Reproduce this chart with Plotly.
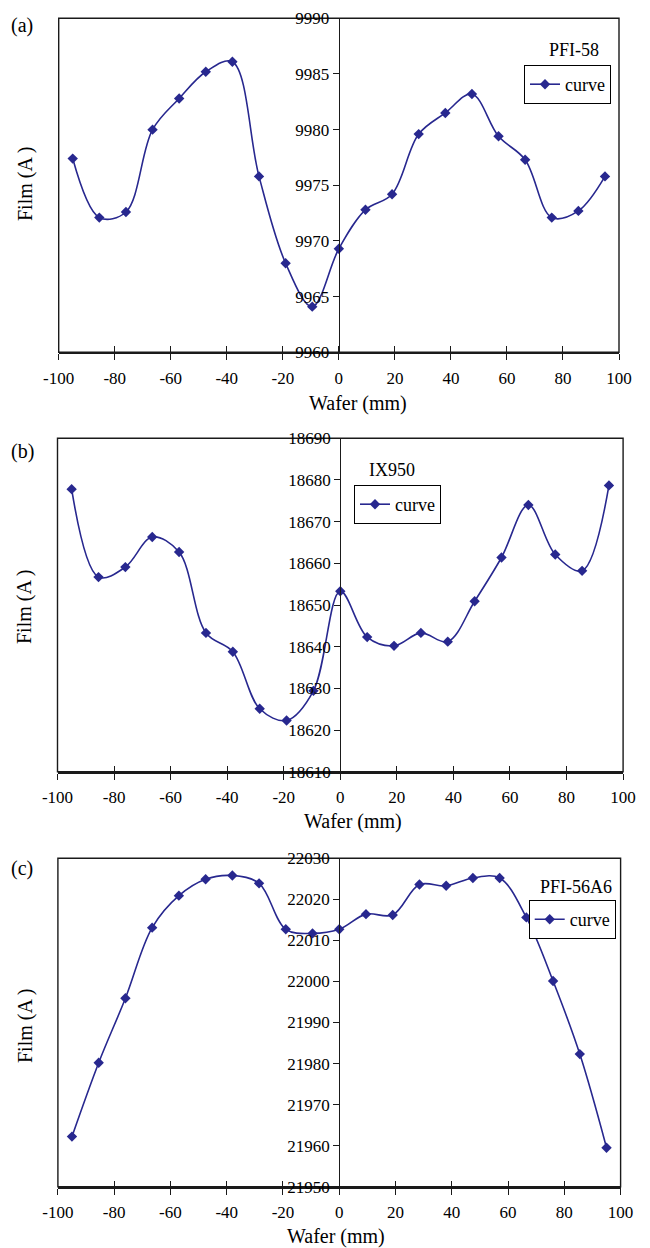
import plotly.graph_objects as go

# ---------------- data ----------------
wafer_mm = [-95, -85.5, -76, -66.5, -57, -47.5, -38, -28.5, -19, -9.5, 0,
            9.5, 19, 28.5, 38, 47.5, 57, 66.5, 76, 85.5, 95]

film_pfi58 = [9977.4, 9972.1, 9972.6, 9980.0, 9982.8, 9985.2, 9986.1, 9975.8,
              9968.0, 9964.1, 9969.3, 9972.8, 9974.2, 9979.6, 9981.5, 9983.2,
              9979.4, 9977.3, 9972.1, 9972.7, 9975.8]

film_ix950 = [18677.8, 18656.7, 18659.1, 18666.3, 18662.7, 18643.3, 18638.8,
              18625.1, 18622.3, 18629.4, 18653.3, 18642.3, 18640.2, 18643.3,
              18641.2, 18650.9, 18661.4, 18674.0, 18662.1, 18658.2, 18678.7]

film_pfi56a6 = [21962.2, 21980.2, 21995.9, 22013.1, 22020.9, 22024.9, 22025.8,
                22023.9, 22012.7, 22011.7, 22012.7, 22016.4, 22016.2, 22023.6,
                22023.3, 22025.2, 22025.2, 22015.6, 22000.1, 21982.3, 21959.5]

x_ticks = [-100, -80, -60, -40, -20, 0, 20, 40, 60, 80, 100]
y_ticks_a = [9960, 9965, 9970, 9975, 9980, 9985, 9990]
y_ticks_b = [18610, 18620, 18630, 18640, 18650, 18660, 18670, 18680, 18690]
y_ticks_c = [21950, 21960, 21970, 21980, 21990, 22000, 22010, 22020, 22030]

series_names = ["PFI-58", "IX950", "PFI-56A6"]
panel_labels = ["(a)", "(b)", "(c)"]
legend_text = "curve"
x_title = "Wafer (mm)"
y_title = "Film (A )"

# ---------------- layout geometry (pixels) ----------------
W, H = 650, 1248
FONT = "Liberation Serif"
LINE_COLOR = "#28288F"
AX_COLOR = "#1a1a1a"

panels = [
    dict(y=film_pfi58, ticks=y_ticks_a, left=58.7, right=619.0, top=18.3, bottom=352.3,
         label_pos=(22, 25), name_pos=(574, 50),
         legend=dict(x=611, y=65, xanchor="right"),
         xt_pos=(358, 403.3), yt_pos=(25, 184)),
    dict(y=film_ix950, ticks=y_ticks_b, left=57.5, right=623.1, top=438.3, bottom=771.7,
         label_pos=(22, 451.7), name_pos=(391.5, 470),
         legend=dict(x=354, y=485, xanchor="left"),
         xt_pos=(352.6, 821.7), yt_pos=(25, 607)),
    dict(y=film_pfi56a6, ticks=y_ticks_c, left=57.9, right=620.6, top=858.3, bottom=1186.7,
         label_pos=(22, 868.3), name_pos=(575.5, 886.5),
         legend=dict(x=615.7, y=900, xanchor="right"),
         xt_pos=(335.5, 1236), yt_pos=(25, 1026)),
]


def px_x(v):
    return v / W


def px_y(v):
    return 1 - v / H


fig = go.Figure()
layout = dict(
    width=W, height=H, autosize=False,
    margin=dict(l=0, r=0, t=0, b=0, pad=0, autoexpand=False),
    paper_bgcolor="white", plot_bgcolor="white",
    font=dict(family=FONT, size=17, color="black"),
    showlegend=True,
    template="none",
)
annotations = []
shapes = []

for i, p in enumerate(panels):
    n = i + 1
    sfx = "" if n == 1 else str(n)
    ov = n + 3  # overlay x-axis for inward half of crossing ticks
    legend_key = "legend" if n == 1 else f"legend{n}"

    fig.add_trace(go.Scatter(
        x=wafer_mm, y=p["y"], mode="lines+markers", name=legend_text,
        line=dict(color=LINE_COLOR, width=1.6, shape="spline", smoothing=1.0),
        marker=dict(symbol="diamond", size=8, color=LINE_COLOR),
        xaxis=f"x{sfx}", yaxis=f"y{sfx}", legend=legend_key,
        hoverinfo="x+y",
    ))
    fig.add_trace(go.Scatter(
        x=[None], y=[None], xaxis=f"x{ov}", yaxis=f"y{sfx}",
        showlegend=False, hoverinfo="skip", mode="markers",
    ))

    xdom = [px_x(p["left"]), px_x(p["right"])]
    ydom = [px_y(p["bottom"]), px_y(p["top"])]
    yr = [p["ticks"][0], p["ticks"][-1]]

    layout[f"xaxis{sfx}"] = dict(
        domain=xdom, range=[-100, 100], anchor=f"y{sfx}", automargin=False,
        tickmode="array", tickvals=x_ticks, ticktext=[str(t) for t in x_ticks],
        ticks="outside", ticklen=6, tickwidth=1.2, tickcolor=AX_COLOR,
        showline=True, linecolor=AX_COLOR, linewidth=1.6,
        showgrid=False, zeroline=False,
        tickfont=dict(family=FONT, size=17, color="black"),
        ticklabelstandoff=3,
    )
    layout[f"xaxis{ov}"] = dict(
        domain=xdom, range=[-100, 100], anchor=f"y{sfx}", overlaying=f"x{sfx}",
        automargin=False,
        tickmode="array", tickvals=x_ticks,
        ticks="inside", ticklen=6, tickwidth=1.2, tickcolor=AX_COLOR,
        showticklabels=False, showline=False, showgrid=False, zeroline=False,
    )
    layout[f"yaxis{sfx}"] = dict(
        domain=ydom, range=yr, anchor="free", automargin=False,
        position=(xdom[0] + xdom[1]) / 2,
        tickmode="array", tickvals=p["ticks"], ticktext=[str(t) for t in p["ticks"]],
        ticks="outside", ticklen=6, tickwidth=1.2, tickcolor=AX_COLOR,
        showline=True, linecolor=AX_COLOR, linewidth=1.2,
        showgrid=False, zeroline=False,
        tickfont=dict(family=FONT, size=17, color="black"),
        ticklabelstandoff=0,
    )

    shapes.append(dict(type="rect", xref=f"x{sfx} domain", yref=f"y{sfx} domain",
                       x0=0, x1=1, y0=0, y1=1,
                       line=dict(color=AX_COLOR, width=1.4), layer="below"))

    lg = p["legend"]
    layout[legend_key] = dict(
        x=px_x(lg["x"]), y=px_y(lg["y"]), xanchor=lg["xanchor"], yanchor="top",
        bgcolor="white", bordercolor="black", borderwidth=1,
        font=dict(family=FONT, size=18, color="black"),
        itemwidth=30, tracegroupgap=0,
    )

    annotations += [
        dict(text=panel_labels[i], x=px_x(p["label_pos"][0]), y=px_y(p["label_pos"][1]),
             xref="paper", yref="paper", showarrow=False, xanchor="center", yanchor="middle",
             font=dict(family=FONT, size=20, color="black")),
        dict(text=series_names[i], x=px_x(p["name_pos"][0]), y=px_y(p["name_pos"][1]),
             xref="paper", yref="paper", showarrow=False, xanchor="center", yanchor="middle",
             font=dict(family=FONT, size=18, color="black")),
        dict(text=x_title, x=px_x(p["xt_pos"][0]), y=px_y(p["xt_pos"][1]),
             xref="paper", yref="paper", showarrow=False, xanchor="center", yanchor="middle",
             font=dict(family=FONT, size=20, color="black")),
        dict(text=y_title, x=px_x(p["yt_pos"][0]), y=px_y(p["yt_pos"][1]),
             xref="paper", yref="paper", showarrow=False, xanchor="center", yanchor="middle",
             textangle=-90, font=dict(family=FONT, size=20, color="black")),
    ]

layout["annotations"] = annotations
layout["shapes"] = shapes
fig.update_layout(**layout)

fig.write_html(
    "out.html",
    config={"displayModeBar": False},
    post_script="document.body.style.margin='0';document.body.style.padding='0';",
)
